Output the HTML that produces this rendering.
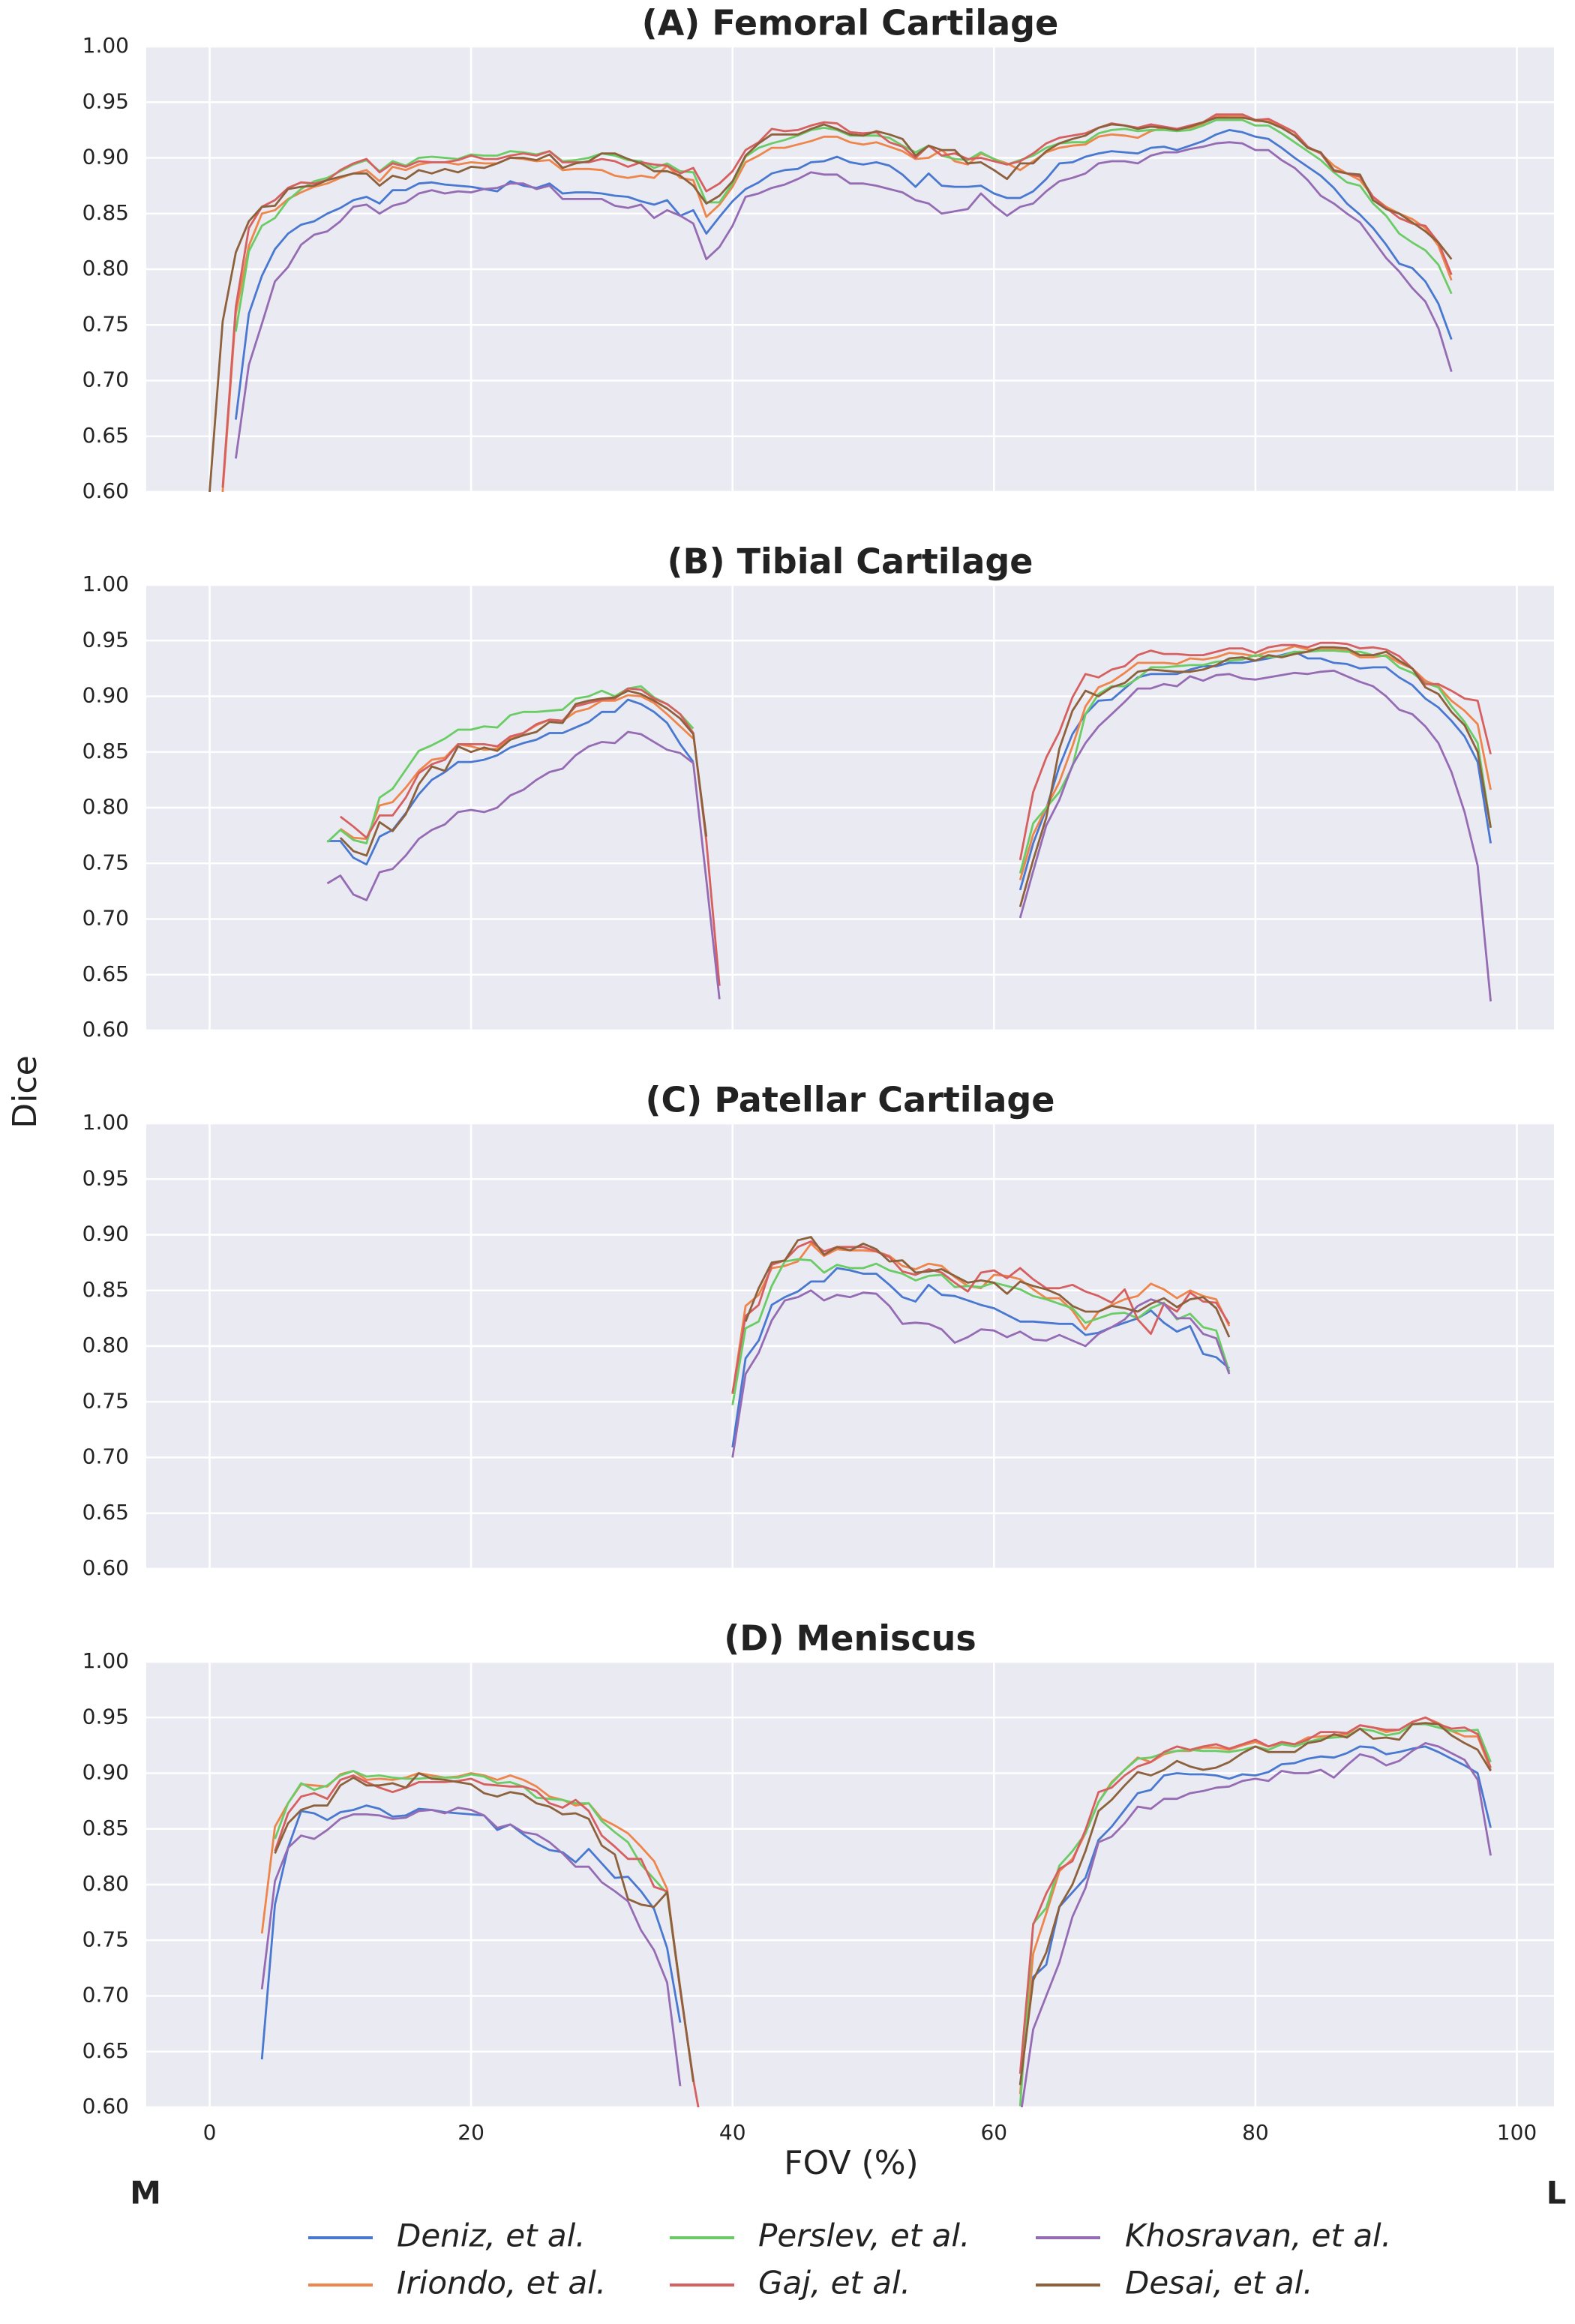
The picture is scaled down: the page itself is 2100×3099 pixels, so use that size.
<!DOCTYPE html>
<html><head><meta charset="utf-8"><title>Dice vs FOV</title>
<style>
html,body{margin:0;padding:0;background:#fff;}
svg{display:block;font-family:"DejaVu Sans","Liberation Sans",sans-serif;}
</style></head>
<body>
<svg id="chart" width="2100" height="3099" viewBox="0 0 2100 3099" xmlns="http://www.w3.org/2000/svg">
<text x="36" y="1456" font-size="44" fill="#222" text-anchor="middle" dominant-baseline="middle" transform="rotate(-90 36 1456)">Dice</text>
<text x="1135" y="2887" font-size="44" fill="#222" text-anchor="middle" dominant-baseline="middle">FOV (%)</text>
<text x="194" y="2927" font-size="42" font-weight="bold" fill="#222" text-anchor="middle" dominant-baseline="middle">M</text>
<text x="2075" y="2927" font-size="42" font-weight="bold" fill="#222" text-anchor="middle" dominant-baseline="middle">L</text>
<g id="legend"></g>
</svg>
<script>
const seriesNames = ["Deniz, et al.","Iriondo, et al.","Perslev, et al.","Gaj, et al.","Khosravan, et al.","Desai, et al."];
const seriesColors = ["#4878d0","#ee854a","#6acc64","#d65f5f","#956cb4","#8c613c"];
const yTicks = [0.60,0.65,0.70,0.75,0.80,0.85,0.90,0.95,1.00];
const xTicks = [0,20,40,60,80,100];
const panelTitles = ["(A) Femoral Cartilage","(B) Tibial Cartilage","(C) Patellar Cartilage","(D) Meniscus"];

// Panel A (start x, values at 1% steps)
const A_deniz_start = 2;
const A_deniz = [0.665,0.760,0.794,0.818,0.832,0.840,0.843,0.850,0.855,0.862,0.865,0.859,0.871,0.871,0.877,0.878,0.876,0.875,0.874,0.872,0.870,0.879,0.875,0.873,0.877,0.868,0.869,0.869,0.868,0.866,0.865,0.861,0.858,0.862,0.848,0.853,0.832,0.847,0.861,0.872,0.878,0.886,0.889,0.890,0.896,0.897,0.901,0.896,
0.894,0.896,0.893,0.885,0.874,0.886,0.875,0.874,0.874,0.875,0.868,0.864,0.864,0.870,0.881,0.895,0.896,0.901,0.904,0.906,0.905,0.904,0.909,0.910,0.907,0.911,0.915,0.921,0.925,0.923,0.919,0.917,0.909,0.900,0.892,0.884,0.873,0.859,0.849,0.837,0.822,0.805,0.801,0.789,0.769,0.737];
const A_iriondo_start = 1;
const A_iriondo = [0.600,0.760,0.821,0.850,0.853,0.863,0.869,0.874,0.877,0.882,0.886,0.889,0.879,0.892,0.889,0.894,0.896,0.896,0.894,0.896,0.895,0.895,0.900,0.899,0.897,0.898,0.889,0.890,0.890,0.889,0.884,0.882,0.884,0.882,0.893,0.882,0.880,0.847,0.858,0.874,0.896,0.902,0.909,0.909,0.912,0.915,0.919,0.919,0.914,
0.912,0.914,0.910,0.906,0.899,0.900,0.907,0.897,0.894,0.904,0.899,0.895,0.889,0.897,0.905,0.909,0.911,0.912,0.919,0.921,0.920,0.918,0.924,0.927,0.926,0.927,0.931,0.937,0.938,0.938,0.933,0.933,0.928,0.920,0.909,0.904,0.893,0.886,0.880,0.865,0.856,0.850,0.845,0.837,0.821,0.790];
const A_perslev_start = 2;
const A_perslev = [0.744,0.816,0.839,0.846,0.862,0.872,0.879,0.882,0.888,0.894,0.898,0.888,0.897,0.893,0.900,0.901,0.900,0.899,0.903,0.902,0.902,0.906,0.905,0.903,0.906,0.897,0.898,0.900,0.904,0.902,0.898,0.897,0.891,0.895,0.888,0.887,0.860,0.860,0.877,0.901,0.909,0.913,0.916,0.920,0.925,0.927,0.925,0.920,
0.920,0.920,0.918,0.911,0.905,0.911,0.902,0.899,0.898,0.905,0.899,0.894,0.898,0.902,0.909,0.913,0.914,0.914,0.922,0.925,0.926,0.924,0.925,0.925,0.924,0.925,0.929,0.934,0.934,0.934,0.929,0.929,0.922,0.914,0.906,0.898,0.887,0.878,0.875,0.859,0.848,0.832,0.824,0.817,0.804,0.778];
const A_gaj_start = 1;
const A_gaj = [0.604,0.766,0.837,0.856,0.862,0.873,0.878,0.877,0.880,0.889,0.895,0.899,0.887,0.895,0.892,0.897,0.896,0.896,0.898,0.902,0.899,0.899,0.902,0.904,0.902,0.906,0.896,0.896,0.896,0.899,0.897,0.892,0.896,0.894,0.893,0.886,0.891,0.870,0.877,0.888,0.907,0.914,0.926,0.924,0.925,0.929,0.932,0.931,0.923,
0.922,0.923,0.914,0.910,0.900,0.911,0.902,0.904,0.899,0.900,0.897,0.894,0.897,0.904,0.913,0.918,0.920,0.922,0.927,0.931,0.929,0.927,0.930,0.928,0.926,0.929,0.932,0.939,0.939,0.939,0.934,0.935,0.929,0.923,0.910,0.904,0.888,0.886,0.883,0.865,0.855,0.846,0.841,0.839,0.824,0.795];
const A_khosravan_start = 2;
const A_khosravan = [0.630,0.714,0.751,0.789,0.802,0.822,0.831,0.834,0.843,0.856,0.858,0.850,0.857,0.860,0.868,0.871,0.868,0.870,0.869,0.872,0.873,0.877,0.877,0.872,0.875,0.863,0.863,0.863,0.863,0.857,0.855,0.858,0.846,0.853,0.848,0.841,0.809,0.820,0.839,0.865,0.868,0.873,0.876,0.881,0.887,0.885,0.885,0.877,
0.877,0.875,0.872,0.869,0.862,0.859,0.850,0.852,0.854,0.868,0.857,0.848,0.856,0.859,0.870,0.879,0.882,0.886,0.895,0.897,0.897,0.895,0.902,0.905,0.905,0.908,0.910,0.913,0.914,0.913,0.907,0.907,0.898,0.891,0.880,0.866,0.859,0.850,0.842,0.826,0.810,0.798,0.783,0.771,0.747,0.708];
const A_desai_start = 0;
const A_desai = [0.600,0.753,0.815,0.843,0.856,0.857,0.872,0.874,0.875,0.880,0.883,0.886,0.886,0.875,0.884,0.881,0.889,0.886,0.890,0.887,0.892,0.891,0.895,0.900,0.900,0.898,0.903,0.891,0.895,0.897,0.904,0.904,0.899,0.895,0.888,0.888,0.884,0.875,0.859,0.866,0.879,0.902,0.913,0.921,0.921,0.921,0.926,0.930,0.926,0.921,
0.920,0.924,0.921,0.917,0.902,0.911,0.907,0.907,0.895,0.896,0.889,0.881,0.895,0.895,0.906,0.913,0.917,0.920,0.927,0.930,0.929,0.926,0.928,0.927,0.925,0.928,0.932,0.936,0.936,0.936,0.934,0.932,0.927,0.920,0.909,0.905,0.889,0.886,0.885,0.862,0.854,0.850,0.842,0.834,0.824,0.809];

// Panel B: medial segment and lateral segment
const B_deniz_L_start = 9;
const B_deniz_L = [0.770,0.770,0.755,0.749,0.774,0.780,0.795,0.812,0.825,0.832,0.841,0.841,0.843,0.847,0.854,0.858,0.861,0.867,0.867,0.872,0.877,0.886,0.886,0.897,0.893,0.886,0.876,0.857,0.841];
const B_iriondo_L_start = 10;
const B_iriondo_L = [0.781,0.773,0.772,0.802,0.805,0.818,0.833,0.843,0.845,0.857,0.855,0.852,0.853,0.863,0.867,0.874,0.879,0.878,0.886,0.889,0.896,0.896,0.901,0.900,0.894,0.884,0.873,0.862];
const B_perslev_L_start = 9;
const B_perslev_L = [0.769,0.780,0.771,0.768,0.809,0.817,0.834,0.851,0.856,0.862,0.870,0.870,0.873,0.872,0.883,0.886,0.886,0.887,0.888,0.898,0.900,0.905,0.900,0.907,0.909,0.899,0.893,0.884,0.871];
const B_gaj_L_start = 10;
const B_gaj_L = [0.792,0.783,0.773,0.793,0.793,0.809,0.831,0.839,0.843,0.857,0.857,0.857,0.855,0.864,0.867,0.875,0.879,0.878,0.891,0.894,0.897,0.898,0.907,0.906,0.898,0.893,0.884,0.867,0.770,0.640];
const B_khosravan_L_start = 9;
const B_khosravan_L = [0.732,0.739,0.722,0.717,0.742,0.745,0.757,0.772,0.780,0.785,0.796,0.798,0.796,0.800,0.811,0.816,0.825,0.832,0.835,0.847,0.855,0.859,0.858,0.868,0.866,0.859,0.852,0.849,0.840,0.735,0.628];
const B_desai_L_start = 10;
const B_desai_L = [0.773,0.761,0.757,0.787,0.779,0.794,0.821,0.837,0.833,0.855,0.850,0.854,0.851,0.861,0.865,0.868,0.877,0.876,0.893,0.896,0.898,0.899,0.905,0.902,0.896,0.889,0.880,0.866,0.774];
const B_R_start = 62;
const B_deniz_R = [0.726,0.768,0.799,0.837,0.866,0.884,0.896,0.897,0.907,0.917,0.920,0.920,0.920,0.924,0.927,0.927,0.930,0.930,0.932,0.934,0.937,0.940,0.934,0.934,0.930,0.929,0.925,0.926,0.926,0.917,0.910,0.898,0.890,0.878,0.864,0.841,0.768];
const B_iriondo_R = [0.735,0.776,0.800,0.823,0.855,0.891,0.908,0.913,0.921,0.930,0.930,0.930,0.929,0.934,0.933,0.935,0.939,0.938,0.936,0.940,0.941,0.945,0.942,0.942,0.942,0.941,0.935,0.935,0.937,0.930,0.925,0.914,0.909,0.896,0.887,0.875,0.816];
const B_perslev_R = [0.741,0.786,0.800,0.814,0.837,0.884,0.902,0.909,0.909,0.916,0.926,0.926,0.927,0.928,0.928,0.931,0.932,0.933,0.937,0.935,0.936,0.940,0.940,0.941,0.941,0.940,0.940,0.937,0.936,0.926,0.921,0.912,0.908,0.891,0.877,0.858,0.782];
const B_gaj_R = [0.753,0.814,0.845,0.868,0.899,0.920,0.917,0.924,0.927,0.937,0.941,0.938,0.938,0.937,0.937,0.940,0.943,0.943,0.939,0.944,0.946,0.946,0.944,0.948,0.948,0.947,0.943,0.944,0.942,0.936,0.925,0.911,0.911,0.905,0.898,0.896,0.848];
const B_khosravan_R = [0.701,0.743,0.784,0.807,0.838,0.858,0.873,0.884,0.895,0.907,0.907,0.911,0.909,0.918,0.914,0.919,0.920,0.916,0.915,0.917,0.919,0.921,0.920,0.922,0.923,0.918,0.913,0.909,0.900,0.888,0.884,0.873,0.858,0.832,0.796,0.748,0.626];
const B_desai_R = [0.711,0.753,0.791,0.853,0.887,0.905,0.900,0.908,0.912,0.922,0.924,0.923,0.922,0.922,0.924,0.928,0.934,0.935,0.932,0.937,0.935,0.938,0.940,0.944,0.944,0.943,0.937,0.937,0.940,0.932,0.925,0.908,0.902,0.886,0.874,0.850,0.782];

// Panel C
const C_start = 40;
const C_deniz = [0.709,0.789,0.805,0.837,0.844,0.849,0.858,0.858,0.870,0.868,0.865,0.865,0.855,0.844,0.840,0.855,0.846,0.845,0.841,0.837,0.834,0.828,0.822,0.822,0.821,0.820,0.820,0.810,0.812,0.817,0.821,0.825,0.832,0.821,0.813,0.818,0.793,0.790,0.780];
const C_iriondo = [0.757,0.836,0.846,0.870,0.872,0.876,0.892,0.881,0.887,0.886,0.886,0.885,0.881,0.872,0.869,0.874,0.872,0.862,0.854,0.852,0.864,0.863,0.860,0.851,0.843,0.843,0.832,0.815,0.831,0.837,0.842,0.845,0.856,0.851,0.843,0.850,0.845,0.842,0.818];
const C_perslev = [0.747,0.816,0.822,0.854,0.876,0.878,0.877,0.866,0.873,0.870,0.870,0.874,0.868,0.865,0.859,0.863,0.864,0.853,0.854,0.853,0.857,0.854,0.851,0.845,0.842,0.838,0.834,0.821,0.825,0.829,0.830,0.825,0.834,0.839,0.824,0.829,0.817,0.814,0.777];
const C_gaj = [0.758,0.827,0.837,0.873,0.877,0.889,0.894,0.885,0.889,0.889,0.889,0.885,0.880,0.867,0.864,0.869,0.866,0.857,0.849,0.866,0.868,0.861,0.870,0.860,0.852,0.852,0.855,0.849,0.845,0.839,0.851,0.824,0.811,0.838,0.831,0.848,0.840,0.839,0.820];
const C_khosravan = [0.700,0.775,0.794,0.823,0.841,0.844,0.850,0.841,0.846,0.844,0.848,0.847,0.836,0.820,0.821,0.820,0.815,0.803,0.808,0.815,0.814,0.808,0.813,0.806,0.805,0.810,0.805,0.800,0.811,0.817,0.824,0.836,0.842,0.838,0.825,0.825,0.811,0.807,0.775];
const C_desai_start = 41;
const C_desai = [0.822,0.852,0.875,0.877,0.895,0.898,0.882,0.889,0.886,0.892,0.887,0.876,0.877,0.866,0.867,0.869,0.863,0.857,0.859,0.857,0.847,0.858,0.854,0.851,0.846,0.836,0.831,0.831,0.836,0.834,0.831,0.838,0.843,0.835,0.842,0.844,0.834,0.808];

// Panel D
const D_deniz_L_start = 4;
const D_deniz_L = [0.643,0.782,0.833,0.866,0.864,0.858,0.865,0.867,0.871,0.868,0.861,0.862,0.868,0.867,0.865,0.864,0.863,0.862,0.849,0.854,0.845,0.837,0.831,0.829,0.820,0.832,0.819,0.806,0.807,0.794,0.778,0.743,0.676];
const D_iriondo_L_start = 4;
const D_iriondo_L = [0.756,0.852,0.873,0.890,0.889,0.888,0.899,0.902,0.894,0.895,0.894,0.896,0.900,0.898,0.896,0.897,0.900,0.898,0.894,0.898,0.894,0.888,0.879,0.876,0.871,0.873,0.859,0.853,0.846,0.834,0.821,0.796,0.705,0.625];
const D_perslev_L_start = 5;
const D_perslev_L = [0.841,0.873,0.891,0.885,0.889,0.898,0.902,0.897,0.898,0.896,0.895,0.895,0.896,0.896,0.896,0.899,0.897,0.891,0.892,0.888,0.878,0.877,0.876,0.873,0.873,0.857,0.847,0.838,0.818,0.805,0.792,0.705];
const D_gaj_L_start = 5;
const D_gaj_L = [0.830,0.864,0.879,0.882,0.877,0.894,0.898,0.892,0.887,0.883,0.887,0.892,0.892,0.892,0.893,0.895,0.890,0.889,0.888,0.888,0.884,0.873,0.869,0.876,0.866,0.844,0.834,0.823,0.823,0.798,0.794,0.705,0.625,0.560];
const D_khosravan_L_start = 4;
const D_khosravan_L = [0.706,0.803,0.833,0.844,0.841,0.849,0.859,0.863,0.863,0.862,0.859,0.860,0.866,0.867,0.864,0.869,0.867,0.862,0.851,0.854,0.847,0.845,0.838,0.828,0.816,0.816,0.802,0.794,0.785,0.759,0.741,0.712,0.619];
const D_desai_L_start = 5;
const D_desai_L = [0.828,0.855,0.867,0.871,0.871,0.889,0.896,0.889,0.889,0.891,0.887,0.900,0.895,0.894,0.892,0.890,0.882,0.879,0.883,0.881,0.873,0.870,0.863,0.864,0.859,0.835,0.827,0.787,0.782,0.780,0.793,0.707,0.623];
const D_R_start = 62;
const D_deniz_R = [0.620,0.717,0.728,0.780,0.793,0.806,0.840,0.852,0.867,0.882,0.885,0.898,0.900,0.899,0.899,0.898,0.895,0.899,0.898,0.901,0.908,0.909,0.913,0.915,0.914,0.918,0.924,0.923,0.917,0.919,0.922,0.924,0.919,0.913,0.907,0.900,0.851];
const D_iriondo_R = [0.612,0.738,0.774,0.812,0.823,0.846,0.874,0.892,0.903,0.914,0.910,0.917,0.920,0.920,0.923,0.923,0.921,0.925,0.928,0.924,0.927,0.926,0.932,0.933,0.934,0.935,0.943,0.941,0.937,0.939,0.946,0.950,0.945,0.938,0.933,0.933,0.903];
const D_perslev_R = [0.601,0.765,0.779,0.817,0.830,0.846,0.874,0.891,0.903,0.913,0.914,0.918,0.920,0.921,0.920,0.920,0.919,0.921,0.924,0.921,0.926,0.924,0.928,0.931,0.932,0.933,0.940,0.938,0.934,0.936,0.944,0.944,0.941,0.938,0.938,0.939,0.910];
const D_gaj_R = [0.630,0.764,0.792,0.814,0.821,0.849,0.883,0.887,0.898,0.906,0.910,0.919,0.924,0.921,0.924,0.926,0.922,0.926,0.930,0.924,0.928,0.926,0.930,0.937,0.937,0.936,0.943,0.941,0.939,0.939,0.946,0.950,0.944,0.940,0.941,0.935,0.905];
const D_khosravan_R = [0.590,0.670,0.700,0.730,0.771,0.797,0.838,0.843,0.855,0.870,0.868,0.877,0.877,0.882,0.884,0.887,0.888,0.893,0.895,0.893,0.902,0.900,0.900,0.903,0.896,0.907,0.917,0.914,0.907,0.911,0.920,0.927,0.924,0.918,0.912,0.894,0.826];
const D_desai_R = [0.620,0.714,0.739,0.780,0.800,0.830,0.866,0.876,0.889,0.901,0.898,0.903,0.911,0.906,0.903,0.905,0.910,0.918,0.924,0.919,0.919,0.919,0.927,0.929,0.935,0.932,0.940,0.931,0.932,0.930,0.944,0.945,0.944,0.934,0.927,0.921,0.902];

const panelSeries = [
  [[[A_deniz_start,A_deniz]],[[A_iriondo_start,A_iriondo]],[[A_perslev_start,A_perslev]],[[A_gaj_start,A_gaj]],[[A_khosravan_start,A_khosravan]],[[A_desai_start,A_desai]]],
  [[[B_deniz_L_start,B_deniz_L],[B_R_start,B_deniz_R]],[[B_iriondo_L_start,B_iriondo_L],[B_R_start,B_iriondo_R]],[[B_deniz_L_start,B_perslev_L],[B_R_start,B_perslev_R]],[[B_gaj_L_start,B_gaj_L],[B_R_start,B_gaj_R]],[[B_khosravan_L_start,B_khosravan_L],[B_R_start,B_khosravan_R]],[[B_desai_L_start,B_desai_L],[B_R_start,B_desai_R]]],
  [[[C_start,C_deniz]],[[C_start,C_iriondo]],[[C_start,C_perslev]],[[C_start,C_gaj]],[[C_start,C_khosravan]],[[C_desai_start,C_desai]]],
  [[[D_deniz_L_start,D_deniz_L],[D_R_start,D_deniz_R]],[[D_iriondo_L_start,D_iriondo_L],[D_R_start,D_iriondo_R]],[[D_perslev_L_start,D_perslev_L],[D_R_start,D_perslev_R]],[[D_gaj_L_start,D_gaj_L],[D_R_start,D_gaj_R]],[[D_khosravan_L_start,D_khosravan_L],[D_R_start,D_khosravan_R]],[[D_desai_L_start,D_desai_L],[D_R_start,D_desai_R]]]
];

const NS = "http://www.w3.org/2000/svg";
const svg = document.getElementById('chart');
const plotLeft = 195, plotRight = 2072, plotH = 594;
const panelTops = [62, 780, 1498, 2216];
const xScale = v => 279.5 + v * 17.43;
function mk(tag, attrs, parent) {
  const el = document.createElementNS(NS, tag);
  for (const k in attrs) el.setAttribute(k, attrs[k]);
  parent.appendChild(el);
  return el;
}
const defs = mk('defs', {}, svg);

panelTops.forEach((top, p) => {
  const yScale = v => top + (1.0 - v) / 0.4 * plotH;
  const g = mk('g', {}, svg);
  
  
  const cp = mk('clipPath', {id: 'clip' + p}, defs);
  mk('rect', {x: plotLeft, y: top, width: plotRight - plotLeft, height: plotH}, cp);
  const bg = mk('rect', {x: plotLeft, y: top, width: plotRight - plotLeft, height: plotH, fill: '#eaeaf2'}, g);
  
  
  yTicks.forEach(t => {
    const y = yScale(t);
    const gl = mk('line', {x1: plotLeft, x2: plotRight, y1: y, y2: y, stroke: '#fff', 'stroke-width': 2.6}, g);
    
    
    const lb = mk('text', {x: 172, y: y, 'font-size': 28, fill: '#222', 'text-anchor': 'end', 'dominant-baseline': 'middle'}, g);
    
    
    lb.textContent = t.toFixed(2);
  });
  xTicks.forEach(t => {
    const x = xScale(t);
    const gl = mk('line', {x1: x, x2: x, y1: top, y2: top + plotH, stroke: '#fff', 'stroke-width': 2.6}, g);
    
    
    if (p === 3) {
      const lb = mk('text', {x: x, y: 2845, 'font-size': 28, fill: '#222', 'text-anchor': 'middle', 'dominant-baseline': 'middle'}, g);
      
      
      lb.textContent = String(t);
    }
  });
  const title = mk('text', {x: (plotLeft + plotRight) / 2, y: top - 28, 'font-size': 46, 'font-weight': 'bold', fill: '#222', 'text-anchor': 'middle', 'dominant-baseline': 'middle'}, g);
  
  
  title.textContent = panelTitles[p];
  const lines = mk('g', {'clip-path': 'url(#clip' + p + ')'}, g);
  panelSeries[p].forEach((segs, s) => {
    segs.forEach(seg => {
      const start = seg[0], vals = seg[1];
      const pts = vals.map((v, i) => xScale(start + i).toFixed(1) + ',' + yScale(v).toFixed(1)).join(' ');
      const pl = mk('polyline', {points: pts, fill: 'none', stroke: seriesColors[s], 'stroke-width': 2.8, 'stroke-linejoin': 'round'}, lines);
      
      
    });
  });
});

const legend = document.getElementById('legend');
const legCols = [[411, 529], [893, 1011], [1381, 1500]];
const legRows = [2984, 3047];
seriesNames.forEach((n, i) => {
  const c = Math.floor(i / 2), r = i % 2;
  const eg = mk('g', {}, legend);
  
  
  mk('line', {x1: legCols[c][0], x2: legCols[c][0] + 86, y1: legRows[r], y2: legRows[r], stroke: seriesColors[i], 'stroke-width': 4}, eg);
  const t = mk('text', {x: legCols[c][1], y: legRows[r], 'font-size': 42, 'font-style': 'italic', fill: '#222', 'dominant-baseline': 'middle'}, eg);
  t.textContent = n;
});
</script>
</body></html>
